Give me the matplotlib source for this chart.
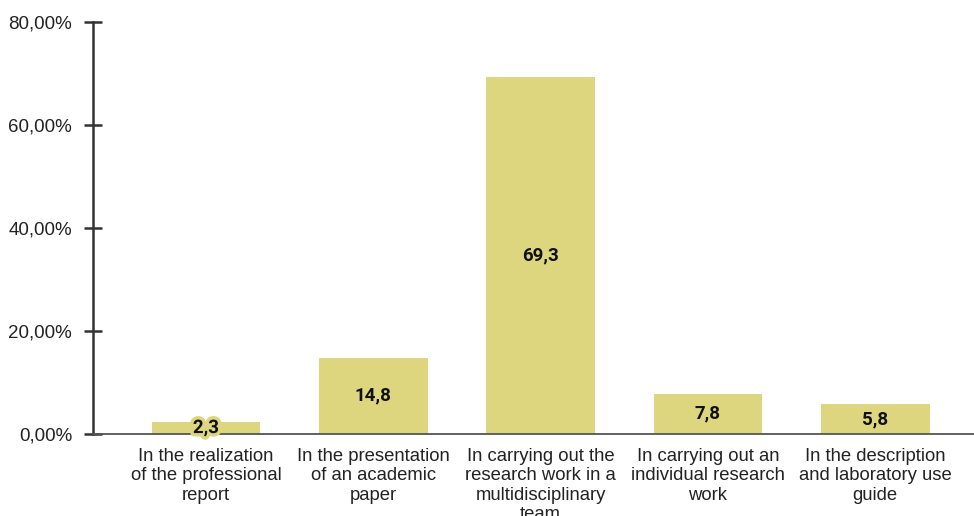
import matplotlib.pyplot as plt
import matplotlib.patheffects as pe
from matplotlib.ticker import FuncFormatter

plt.rcParams['font.family'] = ['Liberation Sans', 'DejaVu Sans']

# data
categories = [
    "In the realization\nof the professional\nreport",
    "In the presentation\nof an academic\npaper",
    "In carrying out the\nresearch work in a\nmultidisciplinary\nteam",
    "In carrying out an\nindividual research\nwork",
    "In the description\nand laboratory use\nguide",
]
values = [2.3, 14.8, 69.3, 7.8, 5.8]
value_labels = ["2,3", "14,8", "69,3", "7,8", "5,8"]
y_ticks = [0, 20, 40, 60, 80]

bar_color = "#ddd67f"
axis_color = "#333333"

fig = plt.figure(figsize=(9.74, 5.16), dpi=100)
ax = fig.add_axes([93 / 974, 82 / 516, 1 - 93 / 974, (434 - 22) / 516])

x = list(range(len(categories)))
bars = ax.bar(x, values, width=0.65, color=bar_color, zorder=2)

for rect, lab, v in zip(bars, value_labels, values):
    t = ax.text(rect.get_x() + rect.get_width() / 2, v / 2, lab,
                ha="center", va="center", fontsize=13.5, fontweight="bold",
                family=["Roboto", "DejaVu Sans"], color="#111111", zorder=4)
    if v < 4:
        t.set_path_effects([pe.withStroke(linewidth=5, foreground=bar_color)])

ax.set_xlim(-0.675, 4.59)
ax.set_ylim(0, 80)
ax.set_yticks(y_ticks)
ax.yaxis.set_major_formatter(FuncFormatter(lambda v, p: f"{v:.2f}%".replace(".", ",")))
ax.set_xticks(x)
ax.set_xticklabels(categories, fontsize=13.3, color="#222222", linespacing=1.18)

for s in ["top", "right"]:
    ax.spines[s].set_visible(False)
ax.spines["left"].set_color(axis_color)
ax.spines["left"].set_linewidth(1.8)
ax.spines["bottom"].set_color("#555555")
ax.spines["bottom"].set_linewidth(1.3)

ax.tick_params(axis="y", direction="inout", length=13, width=1.8, color=axis_color,
               labelsize=13.5, labelcolor="#222222", pad=8.5)
ax.tick_params(axis="x", length=0, pad=10)

fig.savefig("out.png", dpi=100)
